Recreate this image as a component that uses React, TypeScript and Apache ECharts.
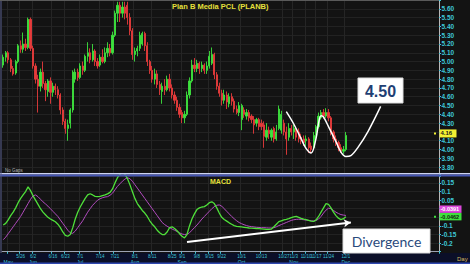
import React, { useEffect, useRef } from "react";
import * as echarts from "echarts";

// ---------- DATA ----------
const slotCount = 176; // category slots on the time axis (trading days incl. future blank space)
const categories = Array.from({ length: slotCount }, (_, i) => "d" + i);

const opens = [
  4.96, 5.05, 5.10, 5.02, 4.92, 4.87, 5.00, 5.18, 5.14, 5.20,
  5.16, 5.48, 5.15, 4.95, 4.80, 4.72, 4.88, 4.75, 4.66, 4.78,
  4.65, 4.72, 4.68, 4.62, 4.45, 4.32, 4.24, 4.30, 4.45, 4.80,
  4.88, 4.82, 4.95, 4.90, 5.06, 5.10, 5.02, 5.12, 5.00, 4.96,
  5.05, 5.00, 5.10, 5.15, 5.10, 5.30, 5.55, 5.64, 5.55, 5.62,
  5.64, 5.50, 5.35, 5.08, 5.12, 5.15, 5.20, 5.32, 5.18, 5.00,
  4.90, 4.80, 4.86, 4.74, 4.66, 4.72, 4.68, 4.80, 4.70, 4.62,
  4.56, 4.48, 4.42, 4.36, 4.40, 4.62, 4.78, 4.96, 4.92, 4.98,
  4.92, 4.96, 4.90, 4.95, 4.98, 5.08, 4.85, 4.72, 4.64, 4.56,
  4.62, 4.52, 4.60, 4.55, 4.46, 4.42, 4.34, 4.45, 4.38, 4.42,
  4.38, 4.34, 4.30, 4.34, 4.30, 4.28, 4.14, 4.22, 4.14, 4.24,
  4.12, 4.24, 4.22, 4.30, 4.20, 4.14, 4.24, 4.20, 4.22, 4.20,
  4.14, 4.12, 4.10, 4.12, 4.04, 4.02, 4.16, 4.26, 4.36, 4.42,
  4.38, 4.42, 4.36, 4.20, 4.12, 4.08, 4.02, 3.98, 4.00,
];
const closes = [
  5.05, 5.10, 5.02, 4.92, 4.86, 5.00, 5.18, 5.14, 5.20, 5.16,
  5.48, 5.15, 4.95, 4.80, 4.72, 4.88, 4.75, 4.68, 4.78, 4.65,
  4.72, 4.68, 4.62, 4.45, 4.32, 4.24, 4.28, 4.45, 4.88, 4.88,
  4.82, 4.95, 4.90, 5.06, 5.10, 5.02, 5.12, 5.00, 4.95, 5.05,
  5.00, 5.10, 5.15, 5.10, 5.30, 5.55, 5.64, 5.55, 5.62, 5.55,
  5.50, 5.35, 5.08, 5.12, 5.15, 5.30, 5.32, 5.18, 5.00, 4.90,
  4.80, 4.86, 4.74, 4.68, 4.72, 4.68, 4.80, 4.70, 4.62, 4.56,
  4.48, 4.40, 4.36, 4.40, 4.62, 4.78, 4.96, 4.92, 4.98, 4.92,
  4.96, 4.90, 4.95, 5.06, 5.08, 4.85, 4.72, 4.64, 4.56, 4.62,
  4.54, 4.60, 4.55, 4.46, 4.42, 4.50, 4.50, 4.40, 4.42, 4.36,
  4.34, 4.28, 4.34, 4.26, 4.26, 4.15, 4.22, 4.18, 4.22, 4.12,
  4.20, 4.46, 4.40, 4.20, 4.12, 4.24, 4.20, 4.24, 4.14, 4.12,
  4.10, 4.08, 4.12, 4.02, 4.00, 4.16, 4.26, 4.38, 4.42, 4.38,
  4.42, 4.36, 4.20, 4.12, 4.08, 4.02, 3.98, 4.00, 4.16,
];
const highs = [
  5.08, 5.12, 5.12, 5.04, 4.95, 5.02, 5.20, 5.24, 5.33, 5.26,
  5.50, 5.50, 5.18, 4.98, 4.85, 4.92, 5.00, 4.78, 4.80, 4.82,
  4.76, 4.75, 4.72, 4.64, 4.48, 4.35, 4.34, 4.47, 4.90, 4.92,
  4.92, 4.98, 5.00, 5.08, 5.22, 5.15, 5.20, 5.14, 5.04, 5.08,
  5.14, 5.16, 5.22, 5.20, 5.34, 5.58, 5.68, 5.68, 5.68, 5.68,
  5.68, 5.55, 5.38, 5.16, 5.18, 5.34, 5.34, 5.34, 5.22, 5.02,
  4.95, 4.92, 4.90, 4.78, 4.76, 4.80, 4.84, 4.86, 4.74, 4.66,
  4.60, 4.52, 4.45, 4.44, 4.66, 4.82, 5.02, 5.04, 5.02, 5.00,
  5.00, 4.98, 5.00, 5.12, 5.16, 5.10, 4.88, 4.76, 4.68, 4.68,
  4.66, 4.64, 4.64, 4.58, 4.50, 4.54, 4.52, 4.48, 4.46, 4.45,
  4.40, 4.38, 4.36, 4.36, 4.34, 4.32, 4.30, 4.26, 4.24, 4.26,
  4.28, 4.50, 4.44, 4.34, 4.26, 4.30, 4.28, 4.28, 4.26, 4.24,
  4.18, 4.16, 4.16, 4.14, 4.08, 4.20, 4.28, 4.42, 4.45, 4.46,
  4.47, 4.46, 4.38, 4.22, 4.16, 4.10, 4.06, 4.04, 4.20,
];
const lows = [
  4.93, 5.00, 4.98, 4.88, 4.84, 4.85, 4.98, 5.10, 5.10, 5.12,
  5.14, 5.12, 4.92, 4.75, 4.42, 4.66, 4.70, 4.55, 4.60, 4.52,
  4.60, 4.62, 4.58, 4.40, 4.28, 4.18, 4.10, 4.24, 4.42, 4.76,
  4.78, 4.80, 4.85, 4.88, 5.00, 4.98, 5.00, 4.95, 4.92, 4.94,
  4.98, 4.98, 5.05, 5.06, 5.08, 5.28, 5.45, 5.45, 5.50, 5.48,
  5.42, 5.30, 5.02, 5.00, 5.06, 5.12, 5.18, 5.12, 4.95, 4.86,
  4.76, 4.74, 4.70, 4.62, 4.52, 4.62, 4.66, 4.66, 4.58, 4.52,
  4.44, 4.36, 4.30, 4.30, 4.38, 4.58, 4.76, 4.88, 4.88, 4.86,
  4.88, 4.86, 4.86, 4.92, 4.96, 4.80, 4.68, 4.60, 4.50, 4.52,
  4.46, 4.48, 4.50, 4.42, 4.40, 4.38, 4.22, 4.36, 4.34, 4.32,
  4.30, 4.18, 4.26, 4.22, 4.22, 4.02, 4.10, 4.12, 4.10, 4.08,
  4.10, 4.22, 4.18, 4.16, 3.94, 4.10, 4.16, 4.12, 4.10, 4.08,
  4.06, 4.04, 4.04, 3.96, 3.96, 4.00, 4.12, 4.24, 4.34, 4.35,
  4.36, 4.32, 4.16, 4.08, 4.04, 3.98, 3.96, 3.95, 3.98,
];

const macdValues = [
  -0.095, -0.085, -0.065, -0.040, -0.020, 0.005, 0.035, 0.060, 0.080, 0.100,
  0.127, 0.105, 0.075, 0.050, 0.025, 0.000, -0.020, -0.035, -0.050, -0.060,
  -0.068, -0.076, -0.090, -0.110, -0.135, -0.155, -0.160, -0.150, -0.110, -0.060,
  -0.020, 0.010, 0.035, 0.060, 0.080, 0.087, 0.080, 0.072, 0.070, 0.072,
  0.076, 0.080, 0.086, 0.095, 0.115, 0.150, 0.180, 0.200, 0.210, 0.200,
  0.175, 0.140, 0.100, 0.060, 0.030, 0.010, -0.010, -0.025, -0.045, -0.070,
  -0.090, -0.105, -0.125, -0.140, -0.150, -0.150, -0.135, -0.110, -0.105, -0.115,
  -0.128, -0.145, -0.160, -0.170, -0.150, -0.100, -0.060, -0.030, -0.005, 0.005,
  0.010, 0.012, 0.022, 0.035, 0.040, 0.030, 0.005, -0.025, -0.050, -0.063,
  -0.072, -0.082, -0.090, -0.098, -0.102, -0.104, -0.106, -0.108, -0.110, -0.112,
  -0.113, -0.114, -0.115, -0.116, -0.117, -0.118, -0.120, -0.120, -0.118, -0.105,
  -0.090, -0.075, -0.070, -0.065, -0.062, -0.058, -0.052, -0.047, -0.045, -0.050,
  -0.056, -0.061, -0.064, -0.068, -0.072, -0.074, -0.065, -0.045, -0.020, 0.005,
  0.030, 0.025, 0.005, -0.020, -0.040, -0.055, -0.063, -0.058, -0.0462,
];
const signalValues = [
  -0.180, -0.165, -0.145, -0.125, -0.105, -0.085, -0.065, -0.045, -0.020, 0.005,
  0.030, 0.055, 0.075, 0.080, 0.070, 0.055, 0.040, 0.028, 0.015, 0.000,
  -0.015, -0.030, -0.045, -0.065, -0.085, -0.105, -0.125, -0.140, -0.143, -0.130,
  -0.110, -0.090, -0.070, -0.045, -0.020, 0.000, 0.020, 0.035, 0.050, 0.058,
  0.064, 0.068, 0.070, 0.078, 0.090, 0.110, 0.130, 0.145, 0.160, 0.172,
  0.180, 0.175, 0.160, 0.140, 0.120, 0.100, 0.080, 0.060, 0.040, 0.020,
  0.000, -0.020, -0.040, -0.060, -0.080, -0.092, -0.102, -0.110, -0.118, -0.125,
  -0.132, -0.140, -0.147, -0.150, -0.148, -0.140, -0.125, -0.110, -0.095, -0.078,
  -0.060, -0.045, -0.030, -0.015, 0.000, 0.012, 0.020, 0.022, 0.015, 0.000,
  -0.015, -0.030, -0.045, -0.058, -0.070, -0.080, -0.087, -0.093, -0.098, -0.102,
  -0.104, -0.106, -0.108, -0.109, -0.110, -0.110, -0.111, -0.112, -0.112, -0.110,
  -0.105, -0.098, -0.092, -0.086, -0.080, -0.074, -0.068, -0.064, -0.062, -0.061,
  -0.062, -0.064, -0.066, -0.068, -0.070, -0.071, -0.068, -0.060, -0.045, -0.025,
  -0.008, 0.003, 0.000, -0.010, -0.020, -0.028, -0.034, -0.037, -0.0391,
];

// date tick labels: slot index, date text, month text
const dateTickIdx = [2, 7, 12, 20, 25, 31, 39, 45, 53, 60, 68, 72, 78, 83, 88, 96, 104, 113, 117, 122, 126, 131, 138];
const dateTickText = ["", "5/26", "6/2", "6/16", "6/23", "7/1", "7/14", "7/21", "8/1", "8/11", "8/25", "9/1", "9/8", "9/15", "9/22", "10/1", "10/13", "10/27", "11/3", "11/10", "11/17", "11/24", "12/1"];
const dateTickMonth = ["May", "", "Jun", "", "", "Jul", "", "", "Aug", "", "", "Sep", "", "", "", "Oct", "", "", "Nov", "", "", "", "Dec"];

// hand-drawn annotation (price space): [slot index, price]
const cupCurve = [
  [114, 4.43], [117, 4.29], [120, 4.12], [122, 4.01], [124, 3.96], [126, 4.13],
  [127, 4.30], [128, 4.385], [129, 4.37], [131, 4.26], [134, 4.09], [136, 3.97],
  [138, 3.92], [140, 3.93], [143, 4.03], [147, 4.21], [152, 4.49],
];
// divergence arrow (MACD space)
const divergenceArrow = [[74, -0.194], [140, -0.08]];

const lastCloseText = "4.16";
const lastMacdText = "-0.0462";
const lastSignalText = "-0.0391";

// ---------- CHART ----------
const CYAN = "#3ec6d6";
const FONT = "Liberation Sans, Arial, sans-serif";

export default function App() {
  const ref = useRef<HTMLDivElement>(null);

  useEffect(() => {
    const chart = echarts.init(ref.current!, undefined, { renderer: "svg", width: 470, height: 264 });
    const tickSet = new Set(dateTickIdx);
    const tickFn = (index: number) => tickSet.has(index);

    const candleData = opens.map((o, i) => [o, closes[i], lows[i], highs[i]]);

    const txt = (x: number, y: number, text: string, fill: string, fontSize: number, bold = false, align = "left", family = FONT) => ({
      type: "text", z: 100, x, y, silent: true,
      style: {
        text, fill, fontSize, fontWeight: bold ? "bold" : "normal", fontFamily: family,
        align, verticalAlign: "middle", textAlign: align, textVerticalAlign: "middle",
      },
    });

    const baseGraphic: any[] = [
      { type: "rect", z: -5, silent: true, shape: { x: 0, y: 253, width: 470, height: 11 }, style: { fill: "#0b0f28" } },
      { type: "rect", z: 100, silent: true, shape: { x: 0, y: 262.5, width: 470, height: 1.5 }, style: { fill: "#3048b0" } },
      { type: "rect", z: 100, silent: true, shape: { x: 0, y: 173, width: 470, height: 1.5 }, style: { fill: "#cdd3f2" } },
      { type: "rect", z: 100, silent: true, shape: { x: 0, y: 174.5, width: 470, height: 2 }, style: { fill: "#4656b4" } },
      { type: "line", z: 100, silent: true, shape: { x1: 1, y1: 0, x2: 1, y2: 253 }, style: { stroke: "#5a6090", lineWidth: 1 } },
      { type: "line", z: 100, silent: true, shape: { x1: 0, y1: 0.5, x2: 439, y2: 0.5 }, style: { stroke: "#5a5a5a", lineWidth: 1 } },
      txt(172, 6, "Plan B Media PCL (PLANB)", "#e6e03c", 7.5, true),
      txt(210, 181.5, "MACD", "#e6e03c", 7, true),
      txt(5, 170.5, "No Gaps", "#b4b4b4", 4.5),
      txt(457, 258.5, "Day", "#d4b860", 6),
      { type: "rect", z: 100, silent: true, shape: { x: 358, y: 78, width: 45, height: 25 }, style: { fill: "#ffffff", stroke: "#dcdcdc", lineWidth: 1 } },
      { ...txt(380.5, 91, "4.50", "#1f3f74", 16, true, "center"), z: 101 },
      { type: "rect", z: 100, silent: true, shape: { x: 343, y: 229, width: 87, height: 24 }, style: { fill: "#ffffff", stroke: "#dcdcdc", lineWidth: 1 } },
      { ...txt(386.5, 241.5, "Divergence", "#2a4a7c", 14, false, "center", "Lato, " + FONT), z: 101 },
    ];

    const option: any = {
      animation: false,
      backgroundColor: "#131313",
      grid: [
        { left: 2, width: 437, top: -1.9, height: 177.8 },
        { left: 2, width: 437, top: 174.3, height: 78.4 },
      ],
      xAxis: [
        {
          type: "category", gridIndex: 0, data: categories, boundaryGap: true,
          axisLine: { show: false, onZero: false }, axisTick: { show: false }, axisLabel: { show: false },
          splitLine: { show: true, interval: tickFn, lineStyle: { color: "#252525", width: 1 } },
        },
        {
          type: "category", gridIndex: 1, data: categories, boundaryGap: true, position: "bottom",
          axisLine: { show: true, onZero: false, lineStyle: { color: "#9ca2b4", width: 1 } },
          axisTick: { show: true, interval: tickFn, length: 2, lineStyle: { color: CYAN } },
          splitLine: { show: true, interval: tickFn, lineStyle: { color: "#252525", width: 1 } },
          axisLabel: {
            show: true, interval: tickFn, margin: 1.5,
            formatter: (_v: string, index: number) => {
              const k = dateTickIdx.indexOf(index);
              if (k < 0) return "";
              const d = dateTickText[k] || " ";
              const m = dateTickMonth[k];
              return m ? `{d|${d}}\n{m|${m}}` : `{d|${d}}`;
            },
            rich: {
              d: { color: CYAN, fontSize: 4.5, lineHeight: 5.5, fontFamily: FONT },
              m: { color: CYAN, fontSize: 5, lineHeight: 5.5, fontFamily: FONT },
            },
          },
        },
      ],
      yAxis: [
        {
          type: "value", gridIndex: 0, position: "right", min: 3.7, max: 5.7, interval: 0.1,
          axisLine: { show: true, lineStyle: { color: "#b8b8b8", width: 1 } },
          axisTick: { show: true, length: 2, lineStyle: { color: CYAN } },
          splitLine: { show: true, lineStyle: { color: "#222222", width: 1 } },
          axisLabel: {
            show: true, margin: 2.5, color: CYAN, fontSize: 6.5, fontWeight: "bold", fontFamily: FONT,
            // 4.20 sits behind the last-price tag in the reference
            formatter: (v: number) => (v > 3.75 && v < 5.65 && Math.abs(v - 4.2) > 0.01 ? v.toFixed(2) : ""),
          },
        },
        {
          type: "value", gridIndex: 1, position: "right", min: -0.25, max: 0.2, interval: 0.05,
          axisLine: { show: true, lineStyle: { color: "#b8b8b8", width: 1 } },
          axisTick: { show: true, length: 2, lineStyle: { color: CYAN } },
          splitLine: { show: true, lineStyle: { color: "#222222", width: 1 } },
          axisLabel: {
            show: true, margin: 2.5, color: CYAN, fontSize: 6.5, fontWeight: "bold", fontFamily: FONT,
            formatter: (v: number) => {
              const r = Math.round(v * 100) / 100;
              if (r >= 0.19 || r <= -0.24 || r === 0 || r === -0.05) return "";
              return String(r);
            },
          },
        },
      ],
      series: [
        {
          type: "candlestick", xAxisIndex: 0, yAxisIndex: 0, data: candleData, barWidth: 1.7,
          itemStyle: { color: "#3de23d", color0: "#e63b3b", borderColor: "#3de23d", borderColor0: "#e63b3b", borderWidth: 0.9 },
          z: 3,
        },
        {
          type: "line", xAxisIndex: 0, yAxisIndex: 0, data: cupCurve, smooth: 0.35, symbol: "none",
          lineStyle: { color: "#ffffff", width: 1.5 }, z: 5, silent: true,
        },
        {
          type: "line", xAxisIndex: 1, yAxisIndex: 1, data: signalValues, symbol: "none",
          lineStyle: { color: "#b24cbf", width: 1 }, z: 3, silent: true,
        },
        {
          type: "line", xAxisIndex: 1, yAxisIndex: 1, data: macdValues, symbol: "none",
          lineStyle: { color: "#4fe03a", width: 1.3 }, z: 4, silent: true,
          markLine: {
            silent: true, symbol: ["none", "arrow"], symbolSize: [6, 7], label: { show: false },
            lineStyle: { color: "#ffffff", width: 2, type: "solid" },
            data: [[{ coord: divergenceArrow[0] }, { coord: divergenceArrow[1] }]],
          },
        },
      ],
      graphic: baseGraphic,
    };

    chart.setOption(option);

    const lastClose = closes[closes.length - 1];
    const lastMacd = macdValues[macdValues.length - 1];
    const yClose = (chart.convertToPixel({ yAxisIndex: 0 } as any, lastClose) as number) - 2;
    const yMacd = chart.convertToPixel({ yAxisIndex: 1 } as any, lastMacd) as number;
    const ySig = yMacd - 7.5;

    chart.setOption({
      graphic: [
        ...baseGraphic,
        { type: "rect", z: 110, silent: true, shape: { x: 439.5, y: yClose - 4, width: 17, height: 8 }, style: { fill: "#f2f032" } },
        { type: "rect", z: 110, silent: true, shape: { x: 434, y: yClose - 1, width: 2, height: 2 }, style: { fill: "#f2f032" } },
        { ...txt(440.5, yClose, lastCloseText, "#1a1a1a", 6, true), z: 111 },
        { type: "rect", z: 110, silent: true, shape: { x: 439.5, y: ySig - 3.7, width: 22, height: 7.4 }, style: { fill: "#dc48dc" } },
        { ...txt(440.5, ySig, lastSignalText, "#ffffff", 5.5, true), z: 111 },
        { type: "rect", z: 110, silent: true, shape: { x: 439.5, y: yMacd - 3.7, width: 22, height: 7.4 }, style: { fill: "#3fe03f" } },
        { type: "rect", z: 110, silent: true, shape: { x: 434, y: yMacd - 1, width: 2, height: 2 }, style: { fill: "#3fe03f" } },
        { ...txt(440.5, yMacd, lastMacdText, "#0a2a0a", 5.5, true), z: 111 },
      ],
    });

    return () => chart.dispose();
  }, []);

  return <div ref={ref} style={{ position: "absolute", left: 0, top: 0, width: 470, height: 264 }} />;
}
